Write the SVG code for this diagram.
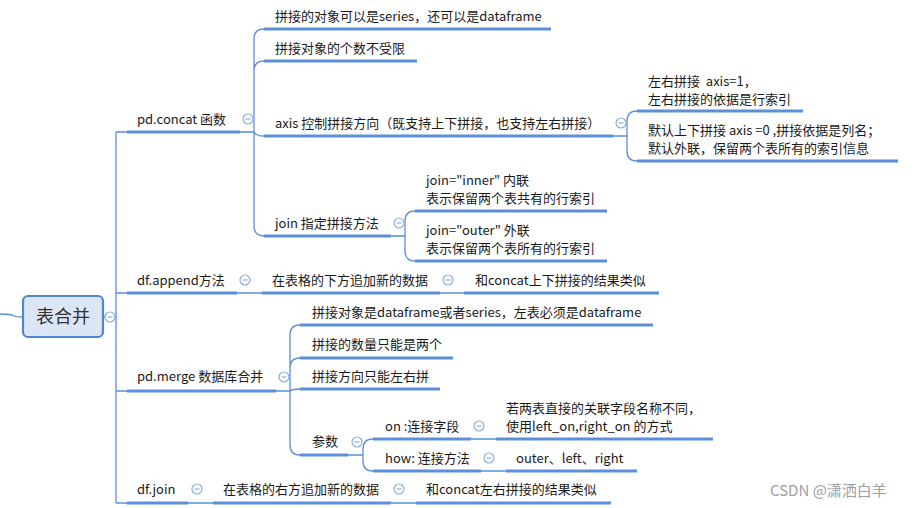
<svg xmlns="http://www.w3.org/2000/svg" width="921" height="508" viewBox="0 0 921 508">
<defs>
<style>
.t{font-family:"Microsoft YaHei","Noto Sans CJK SC","Liberation Sans",sans-serif;font-size:13px;fill:#1a1a1a;white-space:pre}
.u{stroke:#5b8fd6;stroke-width:3;fill:none}
.c{stroke:#5b8fd6;stroke-width:1.3;fill:none}
.k{fill:#fff;stroke:#8aaee0;stroke-width:1.2}
.m{stroke:#8aaee0;stroke-width:1.2}
</style>
<g id="tog"><circle class="k" cx="0" cy="0" r="5"/><line class="m" x1="-2.5" y1="0" x2="2.5" y2="0"/></g>
</defs>
<rect width="921" height="508" fill="#fff"/>

<g id="connectors">
<path class="c" d="M0,314 Q12,314 14,316 Q16,317 23,317"/>
<path class="c" d="M103,317 H116 M116,132 V503 M116,132 H127 M116,293 H127 M116,391 H127 M116,503 H127"/>
<path class="c" d="M240,132 H254 M254,132 V39 Q254,29 264,29 M254,71 Q254,61 264,61 M254,132 Q256,136 264,136 M254,132 V226 Q254,236 264,236"/>
<path class="c" d="M613,136 H627 M627,136 V121 Q627,111 637,111 M627,136 V151 Q627,161 637,161"/>
<path class="c" d="M391,236 H405 M405,236 V221 Q405,211 415,211 M405,236 V251 Q405,261 415,261"/>
<path class="c" d="M237,293 H262 M440,293 H464"/>
<path class="c" d="M276,391 H290 M290,391 V335 Q290,325 300,325 M290,391 V368 Q290,358 300,358 M290,391 Q292,389 300,389 M290,391 V445 Q290,455 300,455"/>
<path class="c" d="M348,455 H363 M363,455 V449 Q363,439 373,439 M363,455 V461 Q363,471 373,471"/>
<path class="c" d="M471,439 H496 M481,471 H506"/>
<path class="c" d="M188,503 H213 M391,503 H416"/>
</g>

<g id="root">
<rect x="23" y="296" width="80" height="41" rx="5" fill="#dbe5f3" stroke="#4f86cf" stroke-width="2.2"/>
<text x="63" y="323" text-anchor="middle" style="font-family:'Microsoft YaHei','Noto Sans CJK SC',sans-serif;font-size:18px;fill:#333">表合并</text>
<use href="#tog" x="110" y="317"/>
</g>

<g id="n-concat">
<path class="u" d="M127,132 H240"/><text class="t" x="137" y="124">pd.concat 函数</text><use href="#tog" x="248" y="119"/>
</g>
<g id="n-concat-1"><path class="u" d="M264,29 H551"/><text class="t" x="275" y="21">拼接的对象可以是series，还可以是dataframe</text></g>
<g id="n-concat-2"><path class="u" d="M264,61 H417"/><text class="t" x="275" y="53">拼接对象的个数不受限</text></g>
<g id="n-axis"><path class="u" d="M264,136 H613"/><text class="t" x="275" y="128">axis 控制拼接方向（既支持上下拼接，也支持左右拼接）</text><use href="#tog" x="621" y="123"/></g>
<g id="n-axis-1"><path class="u" d="M637,111 H803"/><text class="t" x="648" y="86">左右拼接  axis=1，</text><text class="t" x="648" y="104">左右拼接的依据是行索引</text></g>
<g id="n-axis-2"><path class="u" d="M637,161 H898"/><text class="t" x="648" y="135">默认上下拼接 axis =0 ,拼接依据是列名；</text><text class="t" x="648" y="153">默认外联，保留两个表所有的索引信息</text></g>
<g id="n-join"><path class="u" d="M264,236 H391"/><text class="t" x="275" y="228">join 指定拼接方法</text><use href="#tog" x="399" y="223"/></g>
<g id="n-join-1"><path class="u" d="M415,211 H607"/><text class="t" x="426" y="185">join="inner" 内联</text><text class="t" x="426" y="203">表示保留两个表共有的行索引</text></g>
<g id="n-join-2"><path class="u" d="M415,261 H607"/><text class="t" x="426" y="235">join="outer" 外联</text><text class="t" x="426" y="253">表示保留两个表所有的行索引</text></g>

<g id="n-append"><path class="u" d="M127,293 H237"/><text class="t" x="137" y="285">df.append方法</text><use href="#tog" x="245" y="280"/></g>
<g id="n-append-1"><path class="u" d="M262,293 H440"/><text class="t" x="272" y="285">在表格的下方追加新的数据</text><use href="#tog" x="448" y="280"/></g>
<g id="n-append-2"><path class="u" d="M464,293 H659"/><text class="t" x="475" y="285">和concat上下拼接的结果类似</text></g>

<g id="n-merge"><path class="u" d="M127,391 H276"/><text class="t" x="137" y="381">pd.merge 数据库合并</text><use href="#tog" x="284" y="377"/></g>
<g id="n-merge-1"><path class="u" d="M300,325 H653"/><text class="t" x="312" y="317">拼接对象是dataframe或者series，左表必须是dataframe</text></g>
<g id="n-merge-2"><path class="u" d="M300,358 H453"/><text class="t" x="312" y="349">拼接的数量只能是两个</text></g>
<g id="n-merge-3"><path class="u" d="M300,389 H440"/><text class="t" x="312" y="381">拼接方向只能左右拼</text></g>
<g id="n-params"><path class="u" d="M300,455 H348"/><text class="t" x="312" y="446">参数</text><use href="#tog" x="357" y="442"/></g>
<g id="n-on"><path class="u" d="M373,439 H471"/><text class="t" x="385" y="431">on :连接字段</text><use href="#tog" x="479" y="426"/></g>
<g id="n-on-1"><path class="u" d="M496,439 H713"/><text class="t" x="506" y="413">若两表直接的关联字段名称不同，</text><text class="t" x="506" y="431">使用left_on,right_on 的方式</text></g>
<g id="n-how"><path class="u" d="M373,471 H481"/><text class="t" x="385" y="463">how: 连接方法</text><use href="#tog" x="489" y="458"/></g>
<g id="n-how-1"><path class="u" d="M506,471 H637"/><text class="t" x="516" y="463">outer、left、right</text></g>

<g id="n-dfjoin"><path class="u" d="M127,503 H188"/><text class="t" x="137" y="494">df.join</text><use href="#tog" x="197" y="489"/></g>
<g id="n-dfjoin-1"><path class="u" d="M213,503 H391"/><text class="t" x="223" y="494">在表格的右方追加新的数据</text><use href="#tog" x="399" y="489"/></g>
<g id="n-dfjoin-2"><path class="u" d="M416,503 H611"/><text class="t" x="426" y="494">和concat左右拼接的结果类似</text></g>

<text x="770" y="496" style="font-family:'Microsoft YaHei','Noto Sans CJK SC',sans-serif;font-size:15px;fill:#a0a0a0">CSDN @潇洒白羊</text>
</svg>
